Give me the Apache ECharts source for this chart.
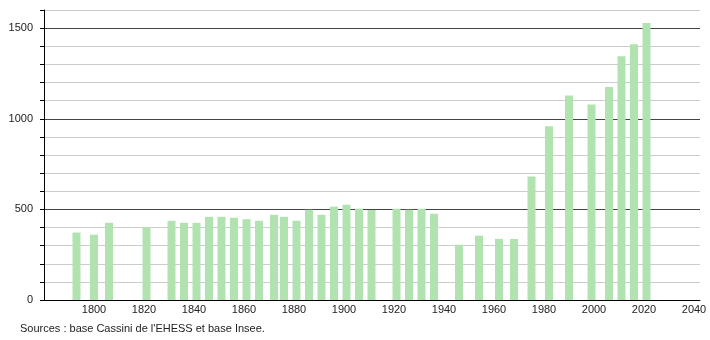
<!DOCTYPE html>
<html><head><meta charset="utf-8">
<script src="https://cdn.jsdelivr.net/npm/echarts@6/dist/echarts.min.js"></script>
<style>html,body{margin:0;padding:0;background:#fff}#c{width:710px;height:340px}</style>
</head><body><div id="c"></div>
<script>
const years = [1793,1800,1806,1821,1831,1836,1841,1846,1851,1856,1861,1866,1872,1876,1881,1886,1891,1896,1901,1906,1911,1921,1926,1931,1936,1946,1954,1962,1968,1975,1982,1990,1999,2006,2011,2016,2021];
const population = [372,360,426,402,437,426,426,459,459,454,446,437,470,459,437,498,470,515,526,504,497,504,498,504,476,305,355,337,337,682,958,1128,1078,1175,1345,1411,1528];
const yMajorLabels = [0,500,1000,1500];
const sourceText = "Sources : base Cassini de l'EHESS et base Insee.";

const chart = echarts.init(document.getElementById('c'));
const font = 'Liberation Sans, Arial, sans-serif';
chart.setOption({
  animation: false,
  grid: {left: 44, right: 10, top: 10, bottom: 40},
  xAxis: {
    type: 'value', min: 1780, max: 2042.4, interval: 20,
    axisLine: {show: true, lineStyle: {color: '#000', width: 1}},
    axisTick: {show: false},
    splitLine: {show: false},
    axisLabel: {showMinLabel: false, showMaxLabel: false, color: '#222', fontSize: 11, fontFamily: font, margin: 4,
      formatter: v => (v % 20 === 0 && v > 1780) ? String(v) : ''}
  },
  yAxis: [{
    type: 'value', min: 0, max: 1600, interval: 100,
    axisLine: {show: true, lineStyle: {color: '#000', width: 1}},
    axisTick: {show: true, length: 4, lineStyle: {color: '#000'}},
    splitLine: {show: true, lineStyle: {color: '#cccccc', width: 1}},
    axisLabel: {color: '#222', fontSize: 11, fontFamily: font, margin: 11,
      formatter: v => yMajorLabels.indexOf(v) >= 0 ? String(v) : ''}
  }, {
    type: 'value', min: 0, max: 1600, interval: 500, position: 'left',
    axisLine: {show: false}, axisTick: {show: false}, axisLabel: {show: false},
    splitLine: {show: true, showMinLine: false, showMaxLine: false, lineStyle: {color: '#444', width: 1}}
  }],
  series: [{
    type: 'bar', barWidth: 8, yAxisIndex: 0,
    itemStyle: {color: '#b1e3b1'},
    data: years.map((y, i) => [y, population[i]])
  }],
  graphic: [{
    type: 'text', left: 20, top: 323,
    style: {text: sourceText, fill: '#222', font: '11px ' + font}
  }]
});
</script></body></html>
